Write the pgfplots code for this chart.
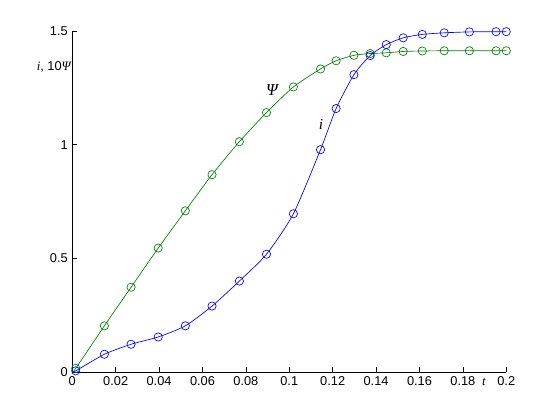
\documentclass[border=0pt]{standalone}
\usepackage{fontspec}
\setmainfont{Liberation Sans}
\newfontfamily\tnr{Liberation Serif}
\usepackage{pgfplots}
\pgfplotsset{compat=1.18}

\definecolor{mblue}{rgb}{0,0,1}
\definecolor{mgreen}{rgb}{0,0.5,0}

% t, i, 10*Psi
\pgfplotstableread{
t       i      psi
0       0      0
0.0016  0.005  0.016
0.0148  0.078  0.203
0.0271  0.122  0.373
0.0396  0.154  0.545
0.0521  0.203  0.709
0.0644  0.290  0.868
0.0770  0.400  1.013
0.0895  0.518  1.141
0.1019  0.696  1.254
0.1144  0.978  1.333
0.1216  1.159  1.369
0.1298  1.308  1.393
0.1373  1.392  1.401
0.1447  1.440  1.404
0.1525  1.470  1.410
0.1613  1.485  1.412
0.1714  1.492  1.413
0.1830  1.496  1.413
0.1953  1.497  1.413
0.2000  1.497  1.413
}\datatable

\begin{document}
\fontsize{9.6pt}{11pt}\selectfont
\begin{tikzpicture}
\begin{axis}[
    scale only axis,
    width=325.5pt,
    height=255.75pt,
    xmin=0, xmax=0.2,
    ymin=0, ymax=1.5,
    axis x line*=bottom,
    axis y line*=left,
    tick align=inside,
    major tick length=3.5pt,
    xtick={0,0.02,...,0.2},
    ytick={0,0.5,1,1.5},
    scaled x ticks=false,
    scaled y ticks=false,
    xticklabel style={/pgf/number format/fixed, /pgf/number format/precision=2},
    yticklabel style={/pgf/number format/fixed},
    /pgf/number format/assume math mode=true,
    tick label style={font=\fontsize{9.6pt}{11pt}\selectfont},
    every tick/.style={black, line width=0.5pt},
    axis line style={line width=0.5pt},
    clip=false,
]
% lines
\addplot[mgreen, line width=0.5pt, smooth, tension=0.4, no marks] table[x=t, y=psi] {\datatable};
\addplot[mblue, line width=0.5pt, smooth, tension=0.4, no marks] table[x=t, y=i] {\datatable};
% markers
\addplot[mgreen, only marks, mark=o, mark size=3.1pt, mark options={line width=0.5pt},
    skip coords between index={0}{1}] table[x=t, y=psi] {\datatable};
\addplot[mblue, only marks, mark=o, mark size=3.1pt, mark options={line width=0.5pt},
    skip coords between index={0}{1}] table[x=t, y=i] {\datatable};

% annotations
\node at (axis cs:0.092,1.242) {\fontsize{12.5pt}{14pt}\selectfont\tnr\itshape Ψ};
\node at (axis cs:0.1146,1.088) {\fontsize{11.5pt}{13pt}\selectfont\tnr\itshape i};
\node[anchor=east, inner sep=0pt] at (axis cs:0,1.343) {{\tnr\itshape i}, 10{\tnr\itshape Ψ}\kern1pt};
\node[anchor=north, inner sep=0pt] at (axis cs:0.1897,-0.028) {\tnr\itshape t};
\end{axis}
\path ([shift={(-54.2pt,-36pt)}]current axis.south west)
    rectangle ([shift={(40.3pt,23.25pt)}]current axis.north east);
\end{tikzpicture}
\end{document}
